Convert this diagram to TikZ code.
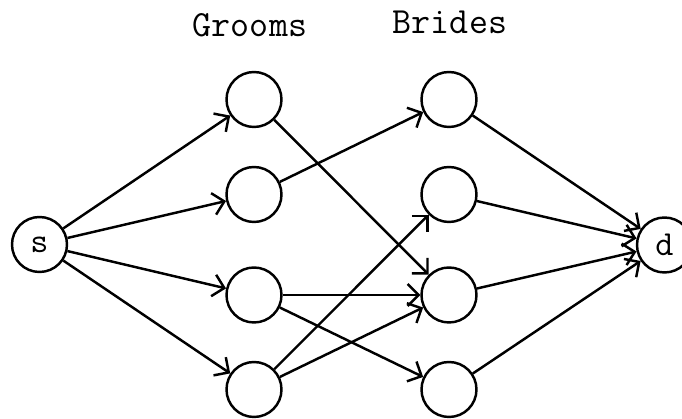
\documentclass[tikz,border=0pt]{standalone}
\usetikzlibrary{arrows.meta, positioning}
\tikzstyle{vertex} = [circle, draw=black, line width=1.4pt, minimum size=1.1cm, inner sep=0pt, font=\ttfamily\fontsize{20}{22}\selectfont]
\tikzstyle{line} = [draw, -{Straight Barb[length=2.2mm,width=4.4mm]}, line width=1.4pt]
\tikzstyle{title} = [font=\ttfamily\fontsize{21}{24}\selectfont]

\begin{document}
\begin{tikzpicture}
\useasboundingbox (0,0) rectangle (13.64,8.38);

\node [title] (grooms) at (5.0,7.88) {Grooms};
\node [title] (brides) at (9.0,7.94) {Brides};

\node [vertex] (s) at (0.79,3.49) {s};
\node [vertex] (d) at (13.29,3.48) {d};

\foreach \i/\y in {1/6.39,2/4.49,3/2.48,4/0.59}{
  \node [vertex] (g\i) at (5.08,\y) {};
  \node [vertex] (b\i) at (8.98,\y) {};
}

\foreach \i in {1,...,4}{
  \draw[line] (s) -- (g\i);
  \draw[line] (b\i) -- (d);
}

\foreach \a/\b in {1/3,2/1,3/3,3/4,4/2,4/3}
  \draw[line] (g\a) -- (b\b);

\end{tikzpicture}
\end{document}
